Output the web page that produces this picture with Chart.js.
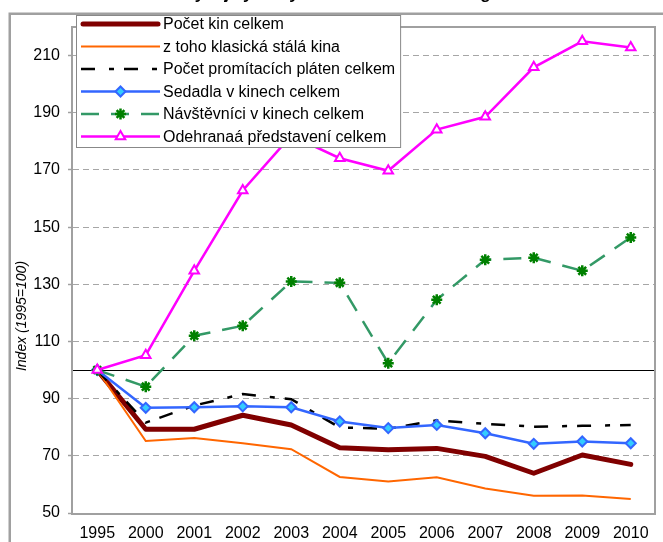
<!DOCTYPE html>
<html>
<head>
<meta charset="utf-8">
<script src="https://cdn.jsdelivr.net/npm/chart.js@4.4.1/dist/chart.umd.min.js"></script>
<style>
html,body{margin:0;padding:0;background:#fff;overflow:hidden}
#wrap{width:663px;height:542px;position:relative}
</style>
</head>
<body>
<div id="wrap"><canvas id="graf"></canvas></div>
<script>
const roky=["1995","2000","2001","2002","2003","2004","2005","2006","2007","2008","2009","2010"];
const kinaCelkem=[100,79.3,79.3,84.2,80.8,72.8,72.1,72.6,69.8,63.9,70.3,67];
const klasickaKina=[100,75.2,76.2,74.4,72.3,62.6,61,62.5,58.6,56,56.1,54.9];
const platna=[100,81.6,87.6,91.6,89.8,79.9,79.5,82.4,81.2,80.2,80.5,80.8];
const sedadla=[100,86.8,87,87.3,87,82,79.7,80.8,77.9,74.2,75,74.4];
const navstevnici=[100,94.2,112,115.5,131,130.5,102.4,124.6,138.6,139.3,134.7,146.4];
const predstaveni=[100,105.2,134.7,162.8,182,174.1,169.7,184.1,188.6,205.9,215,212.8];
const yTicks=[50,70,90,110,130,150,170,190,210];
const nazvy=["Počet kin celkem","z toho klasická stálá kina","Počet promítacích pláten celkem","Sedadla v kinech celkem","Návštěvníci v kinech celkem","Odehranaá představení celkem"];
const zakladna=100;

const font='"Liberation Sans", Arial, sans-serif';

function serie(i,data,o){
  return Object.assign({label:nazvy[i],data,order:5-i,tension:0,fill:false,pointRadius:0,pointHoverRadius:0},o);
}

const datasets=[
  serie(0,kinaCelkem,{borderColor:"#800000",borderWidth:5,borderJoinStyle:"round",borderCapStyle:"round"}),
  serie(1,klasickaKina,{borderColor:"#ff6600",borderWidth:2}),
  serie(2,platna,{borderColor:"#000000",borderWidth:2.5,borderDash:[14,14,5,10]}),
  serie(3,sedadla,{borderColor:"#3366ff",borderWidth:2.5,pointStyle:"rectRot",pointRadius:5,pointBackgroundColor:"#33ccff",pointBorderColor:"#3366ff",pointBorderWidth:2}),
  serie(4,navstevnici,{borderColor:"#339966",borderWidth:2.5,borderDash:[18,12],pointStyle:"star",pointRadius:5.5,pointBorderColor:"#008000",pointBackgroundColor:"#008000",pointBorderWidth:2.5}),
  serie(5,predstaveni,{borderColor:"#ff00ff",borderWidth:2.5,pointStyle:"triangle",pointRadius:5.5,pointBackgroundColor:"#ffffff",pointBorderColor:"#ff00ff",pointBorderWidth:2})
];

const ramecky={
  id:"ramecky",
  beforeDraw(ch){
    const c=ch.ctx;
    c.save();
    c.fillStyle="#fff";c.fillRect(0,0,ch.width,ch.height);
    c.strokeStyle="#a0a0a0";c.lineWidth=2.5;
    c.strokeRect(9.75,13.75,700,600);
    // title, mostly cut off at the top
    c.fillStyle="#000";c.font="bold 17px "+font;c.textAlign="center";c.textBaseline="alphabetic";
    c.fillText("Vývoj vybraných ukazatelů kinematografie",355,-1);
    // y title
    c.translate(22.5,316);c.rotate(-Math.PI/2);
    c.font="italic 14px "+font;c.textBaseline="middle";
    c.fillText("Index (1995=100)",0,0);
    c.restore();
  },
  beforeDatasetsDraw(ch){
    const c=ch.ctx,a=ch.chartArea,y=ch.scales.y.getPixelForValue(zakladna);
    c.save();
    c.strokeStyle="#000";c.lineWidth=1;
    c.beginPath();c.moveTo(a.left,Math.round(y)+0.5);c.lineTo(a.right,Math.round(y)+0.5);c.stroke();
    c.strokeStyle="#a0a0a0";c.lineWidth=2;
    c.strokeRect(a.left-1,a.top,a.right-a.left+1,a.bottom-a.top+1);
    c.restore();
  },
  afterDraw(ch){
    const c=ch.ctx;
    c.save();
    c.font="16px "+font;
    let w=0;nazvy.forEach(n=>w=Math.max(w,c.measureText(n).width));
    const x0=76,y0=15,tx=163,h=132;
    c.fillStyle="#fff";c.fillRect(x0,y0,tx+w+5-x0,h);
    c.strokeStyle="#888";c.lineWidth=1;c.strokeRect(x0+0.5,y0+0.5,tx+w+5-x0,h);
    ch.data.datasets.forEach((d,i)=>{
      const y=24+i*22.5;
      c.save();
      c.strokeStyle=d.borderColor;c.lineWidth=d.borderWidth;
      c.lineCap=d.borderCapStyle||"butt";
      c.setLineDash(d.borderDash||[]);
      const x1=d.borderCapStyle==="round"?83:81,x2=d.borderCapStyle==="round"?158:160;
      c.beginPath();c.moveTo(x1,y);c.lineTo(x2,y);c.stroke();
      c.setLineDash([]);
      if(d.pointRadius>0){
        c.fillStyle=d.pointBackgroundColor;c.strokeStyle=d.pointBorderColor;c.lineWidth=d.pointBorderWidth;
        Chart.helpers.drawPoint(c,{pointStyle:d.pointStyle,radius:d.pointRadius,rotation:0,borderWidth:d.pointBorderWidth},120.5,y);
      }
      c.restore();
      c.fillStyle="#000";c.textBaseline="middle";c.textAlign="left";
      c.fillText(d.label,tx,y+1);
    });
    c.restore();
  }
};

new Chart(document.getElementById("graf"),{
  type:"line",
  data:{labels:roky,datasets},
  options:{
    responsive:true,maintainAspectRatio:false,animation:false,
    layout:{padding:{top:27,right:4,left:0,bottom:0}},
    plugins:{legend:{display:false},tooltip:{enabled:false}},
    scales:{
      x:{
        offset:true,
        grid:{display:false},
        border:{display:false},
        ticks:{color:"#000",font:{family:font,size:16},padding:3,maxRotation:0,autoSkip:false},
        afterFit(s){s.height=29;}
      },
      y:{
        min:50,max:220,
        afterBuildTicks(s){s.ticks=yTicks.map(v=>({value:v}));},
        grid:{color:"#a6a6a6",lineWidth:1,tickLength:5,tickColor:"#a0a0a0",tickWidth:1.5},
        border:{display:false,dash:[6,4]},
        ticks:{color:"#000",font:{family:font,size:16},padding:8},
        afterFit(s){s.width=73;}
      }
    }
  },
  plugins:[ramecky]
});
</script>
</body>
</html>
